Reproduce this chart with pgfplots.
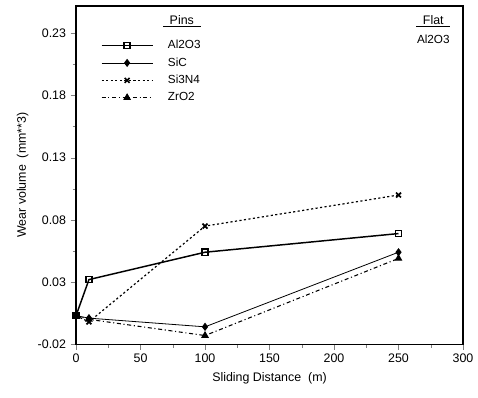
\documentclass[border=0pt]{standalone}
\usepackage{pgfplots}
\pgfplotsset{compat=1.18}
\usepackage{fontspec}
\setmainfont{Liberation Sans}
\begin{document}
\begin{tikzpicture}[font=\fontsize{9.3}{10.5}\selectfont]
\begin{axis}[
  width=290pt, height=253.5pt, scale only axis,
  xmin=0, xmax=300, ymin=-0.02, ymax=0.252,
  xtick={0,50,...,300},
  ytick={-0.02,0.03,0.08,0.13,0.18,0.23},
  minor x tick num=1, minor y tick num=1,
  tick align=outside, tick pos=left,
  major tick length=4pt, minor tick length=2.5pt,
  axis line style={line width=0.9pt},
  /pgf/number format/assume math mode=true,
  scaled y ticks=false,
  yticklabel style={/pgf/number format/.cd,fixed,fixed zerofill,precision=2},
  xlabel={Sliding Distance\ \ (m)},
  ylabel={Wear volume\ \ (mm**3)},
  legend style={draw=none, fill=none, at={(axis cs:16,0.229)}, anchor=north west,
    row sep=1.2pt, font=\fontsize{8.8}{10}\selectfont,
    /tikz/every odd column/.append style={column sep=9pt}},
  legend cell align=left,
  legend image code/.code={\draw[mark repeat=2,mark phase=2,#1] plot coordinates {(0cm,0cm) (0.67cm,0cm) (1.34cm,0cm)};},
]
\addplot[black, line width=1.1pt, mark=square, mark size=2.3pt, mark options={solid,line width=1.1pt}]
  coordinates {(0,0.003) (10,0.032) (100,0.054) (250,0.069)};
\addlegendentry{Al2O3}
\addplot[black, line width=0.6pt, mark=diamond*, mark size=2.6pt, mark options={solid}]
  coordinates {(0,0.003) (10,0.001) (100,-0.006) (250,0.054)};
\addlegendentry{SiC}
\addplot[black, line width=0.9pt, dash pattern=on 1.6pt off 1.8pt, mark=x, mark size=2.6pt, mark options={solid,line width=1.3pt}]
  coordinates {(0,0.003) (10,-0.002) (100,0.075) (250,0.100)};
\addlegendentry{Si3N4}
\addplot[black, line width=0.8pt, dash dot, mark=triangle*, mark size=2.6pt, mark options={solid}]
  coordinates {(0,0.003) (10,0.0) (100,-0.013) (250,0.049)};
\addlegendentry{ZrO2}
\node[font=\fontsize{9.3}{10.5}\selectfont] at (axis cs:82,0.2397) {\underline{\hspace{5pt}Pins\hspace{5pt}}};
\node[font=\fontsize{9.3}{10.5}\selectfont] at (axis cs:277,0.2397) {\underline{\hspace{5pt}Flat\hspace{5pt}}};
\node[font=\fontsize{8.8}{10}\selectfont] at (axis cs:277,0.2255) {Al2O3};
\end{axis}
\path (current axis.south west) ++(-57pt,-39.75pt) (current axis.north east) ++(11.25pt,4.5pt);
\end{tikzpicture}
\end{document}
